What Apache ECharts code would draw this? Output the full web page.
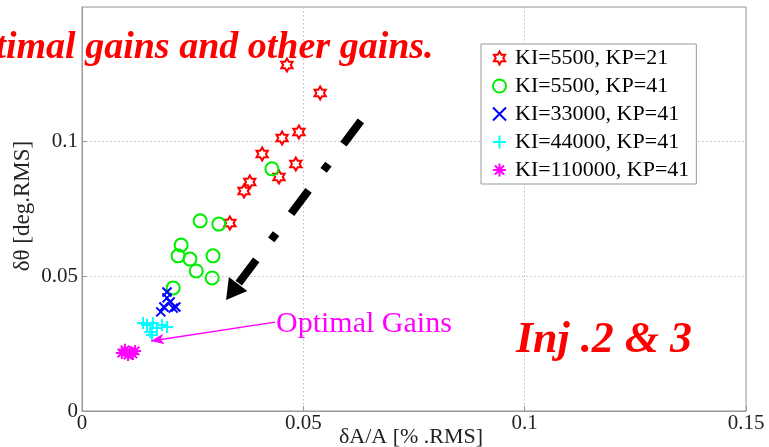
<!DOCTYPE html>
<html><head><meta charset="utf-8">
<script src="https://cdn.jsdelivr.net/npm/echarts@6/dist/echarts.min.js"></script>
<style>html,body{margin:0;padding:0;background:#fff}#c{width:769px;height:447px}</style>
</head><body><div id="c"></div>
<script>
// ---- data ----
const seriesNames = ['KI=5500, KP=21', 'KI=5500, KP=41', 'KI=33000, KP=41', 'KI=44000, KP=41', 'KI=110000, KP=41'];
const ki5500kp21 = [[0.0463,0.1285],[0.0538,0.1181],[0.0490,0.1036],[0.0452,0.1014],[0.0407,0.0954],[0.0483,0.0917],[0.0379,0.0850],[0.0366,0.0817],[0.0445,0.0869],[0.0334,0.0698]];
const ki5500kp41 = [[0.0429,0.0899],[0.0267,0.0706],[0.0309,0.0694],[0.0224,0.0616],[0.0217,0.0576],[0.0244,0.0564],[0.0296,0.0576],[0.0258,0.0520],[0.0294,0.0494],[0.0206,0.0457]];
const ki33000kp41 = [[0.0192,0.0442],[0.0192,0.0420],[0.0199,0.0405],[0.0185,0.0386],[0.0206,0.0382],[0.0212,0.0386],[0.0178,0.0368]];
const ki44000kp41 = [[0.0160,0.0327],[0.0147,0.0319],[0.0169,0.0308],[0.0154,0.0293],[0.0181,0.0319],[0.0192,0.0312],[0.0138,0.0327],[0.0158,0.0282]];
const ki110000kp41 = [[0.0097,0.0227],[0.0108,0.0219],[0.0120,0.0223],[0.0090,0.0215],[0.0104,0.0208],[0.0115,0.0212]];
const xTickValues = [0, 0.05, 0.1, 0.15];
const yTickValues = [0, 0.05, 0.1, 0.15];
const xAxisName = 'δA/A [% .RMS]';
const yAxisName = 'δθ [deg.RMS]';
const trendArrow = [[0.0630, 0.1077], [0.0339, 0.0442]];
const optimalArrow = [[0.0436, 0.0330], [0.0156, 0.0260]];
const titleText = 'Optimal gains and other gains.';
const optimalText = 'Optimal Gains';
const injText = 'Inj .2 & 3';

// ---- styles ----
const FONT = '"Liberation Serif", "DejaVu Serif", serif';
const hexPath = 'path://M10,0L12.89,5L18.66,5L15.77,10L18.66,15L12.89,15L10,20L7.11,15L1.34,15L4.23,10L1.34,5L7.11,5Z';
const xPath = 'path://M0,0L10,10M10,0L0,10';
const plusPath = 'path://M5,0L5,10M0,5L10,5';
const starPath = 'path://M5,0L5,10M0,5L10,5M1.5,1.5L8.5,8.5M8.5,1.5L1.5,8.5';

const chart = echarts.init(document.getElementById('c'), null, {renderer: 'canvas'});

function sc(name, data, symbol, size, color) {
  return {
    type: 'scatter', name: name, data: data, symbol: symbol, symbolSize: size,
    symbolKeepAspect: true,
    itemStyle: {color: 'rgba(255,255,255,0)', borderColor: color, borderWidth: 2, opacity: 1},
    emphasis: {disabled: true}, silent: true
  };
}

const axisCommon = {
  type: 'value',
  nameMoveOverlap: false,
  axisLine: {show: true, lineStyle: {color: '#999', width: 1}},
  axisTick: {show: true, inside: true, length: 5, lineStyle: {color: '#999'}},
  splitLine: {show: true, lineStyle: {color: '#bbb', type: [1.5, 2.5], width: 1}},
  axisLabel: {color: '#222', fontFamily: FONT, fontSize: 21},
  nameTextStyle: {color: '#222', fontFamily: FONT, fontSize: 22}
};

const option = {
  animation: false,
  backgroundColor: '#fff',
  grid: {left: 82, right: 23, top: 7, bottom: 36, show: true, borderColor: '#999', borderWidth: 1, backgroundColor: '#fff', containLabel: false, outerBoundsMode: 'none'},
  xAxis: Object.assign({}, axisCommon, {
    min: xTickValues[0], max: xTickValues[xTickValues.length - 1], interval: xTickValues[1] - xTickValues[0],
    name: xAxisName, nameLocation: 'middle', nameGap: 15,
    nameTextStyle: Object.assign({}, axisCommon.nameTextStyle, {padding: [0, 6, 0, 0]}),
    axisLabel: Object.assign({}, axisCommon.axisLabel, {margin: 2})
  }),
  yAxis: Object.assign({}, axisCommon, {
    min: yTickValues[0], max: yTickValues[yTickValues.length - 1], interval: yTickValues[1] - yTickValues[0],
    name: yAxisName, nameLocation: 'middle', nameGap: 48,
    nameTextStyle: Object.assign({}, axisCommon.nameTextStyle, {fontSize: 23, padding: [0, 0, 0, 6]}),
    axisLabel: Object.assign({}, axisCommon.axisLabel, {margin: 4, showMaxLabel: false})
  }),
  legend: {
    data: seriesNames, orient: 'vertical', left: 481, top: 44,
    padding: [3, 7, 3, 11], itemGap: 6, itemWidth: 13, itemHeight: 13,
    textStyle: {fontFamily: FONT, fontSize: 22, color: '#000', lineHeight: 21, padding: [0, 0, 0, 4]},
    borderColor: '#999', borderWidth: 1, backgroundColor: '#fff'
  },
  series: [
    sc(seriesNames[0], ki5500kp21, hexPath, 13, '#ff0000'),
    sc(seriesNames[1], ki5500kp41, 'circle', 13, '#00ee00'),
    sc(seriesNames[2], ki33000kp41, xPath, 9, '#0000ff'),
    sc(seriesNames[3], ki44000kp41, plusPath, 12, '#00ffff'),
    sc(seriesNames[4], ki110000kp41, starPath, 12, '#ff00ff'),
    {
      type: 'scatter', name: 'annotations', data: [], silent: true,
      markLine: {
        silent: true, animation: false,
        label: {show: false},
        emphasis: {disabled: true},
        data: [
          [
            {coord: trendArrow[0], symbol: 'none', lineStyle: {color: '#000', width: 8, type: [29, 25, 8, 25]}},
            {coord: trendArrow[1], symbol: 'triangle', symbolSize: [23, 20]}
          ],
          [
            {coord: optimalArrow[0], symbol: 'none', lineStyle: {color: '#ff00ff', width: 1.5, type: 'solid'}},
            {coord: optimalArrow[1], symbol: 'arrow', symbolSize: [8, 13]}
          ]
        ]
      }
    }
  ],
  graphic: [
    {type: 'text', z: 100, x: -51, y: 48, style: {text: titleText, font: 'italic bold 38px ' + FONT, fill: '#ff0000', textVerticalAlign: 'middle'}},
    {type: 'text', z: 100, x: 276, y: 324.5, style: {text: optimalText, font: '30px ' + FONT, fill: '#ff00ff', textVerticalAlign: 'middle'}},
    {type: 'text', z: 100, x: 516, y: 341, style: {text: injText, font: 'italic bold 44px ' + FONT, fill: '#ff0000', textVerticalAlign: 'middle'}}
  ]
};
chart.setOption(option);
</script>
</body></html>
